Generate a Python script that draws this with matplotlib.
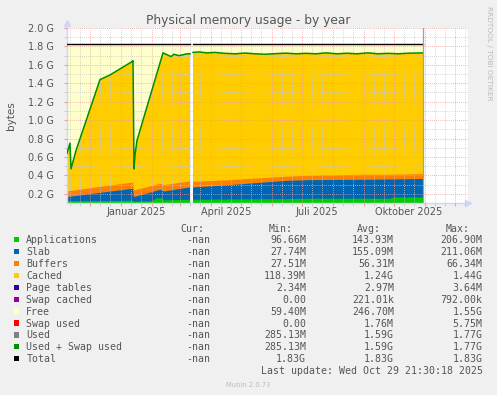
import matplotlib
matplotlib.use("Agg")
import matplotlib.pyplot as plt
import matplotlib.dates as mdates
import matplotlib.transforms as mtransforms
import numpy as np
import pandas as pd
from matplotlib.patches import Rectangle

# "Used + Swap used" line = top of the stacked areas (values in G)
used_dates = [
    "2024-11-08", "2024-11-11", "2024-11-12", "2024-11-17", "2024-12-11",
    "2024-12-21", "2024-12-31", "2025-01-12", "2025-01-13", "2025-01-14",
    "2025-01-15", "2025-01-17", "2025-02-12", "2025-02-14", "2025-02-20",
    "2025-02-23", "2025-02-28", "2025-03-04", "2025-03-08", "2025-03-11",
    "2025-03-12",
    "2025-03-14", "2025-03-20", "2025-03-28", "2025-04-05", "2025-04-15",
    "2025-04-25", "2025-05-05", "2025-05-15", "2025-05-25", "2025-06-05",
    "2025-06-15", "2025-06-25", "2025-07-05", "2025-07-15", "2025-07-25",
    "2025-08-05", "2025-08-15", "2025-08-25", "2025-09-05", "2025-09-15",
    "2025-09-25", "2025-10-05", "2025-10-15", "2025-10-30",
]
used = [
    0.64, 0.75, 0.47, 0.67, 1.44,
    1.49, 1.556, 1.635, 1.645, 0.47,
    0.62, 0.78, 1.73, 1.72, 1.69,
    1.715, 1.70, 1.71, 1.72, 1.72,
    np.nan,
    1.735, 1.74, 1.73, 1.735, 1.725,
    1.72, 1.728, 1.72, 1.715, 1.722,
    1.727, 1.72, 1.725, 1.72, 1.73,
    1.72, 1.726, 1.72, 1.73, 1.72,
    1.725, 1.72, 1.726, 1.73,
]

# lower stacked areas (values in G)
stack_dates = [
    "2024-11-08", "2024-12-11", "2024-12-28", "2025-01-13", "2025-01-14",
    "2025-02-01", "2025-02-06", "2025-02-10", "2025-02-13", "2025-03-11",
    "2025-03-12",
    "2025-03-14", "2025-04-15", "2025-05-15", "2025-06-15", "2025-07-09",
    "2025-09-01", "2025-09-28", "2025-09-30", "2025-10-30",
]
apps = [
    0.120, 0.120, 0.122, 0.125, 0.115,
    0.120, 0.150, 0.152, 0.130, 0.135,
    np.nan,
    0.135, 0.138, 0.140, 0.142, 0.146,
    0.146, 0.146, 0.160, 0.160,
]
slab = [
    0.044, 0.090, 0.111, 0.129, 0.049,
    0.097, 0.085, 0.091, 0.095, 0.134,
    np.nan,
    0.134, 0.152, 0.175, 0.198, 0.202,
    0.206, 0.209, 0.195, 0.200,
]
buffers = [
    0.061, 0.065, 0.067, 0.069, 0.072,
    0.068, 0.065, 0.067, 0.070, 0.065,
    np.nan,
    0.061, 0.055, 0.050, 0.045, 0.048,
    0.055, 0.052, 0.052, 0.054,
]

total = 1.83
total_spans = [("2024-11-08", "2025-03-11"), ("2025-03-14", "2025-10-30")]
data_end = "2025-10-30"

x_label_dates = ["2025-01-16", "2025-04-16", "2025-07-16", "2025-10-16"]
x_labels = ["Januar 2025", "April 2025", "Juli 2025", "Oktober 2025"]
y_ticks = [0.2, 0.4, 0.6, 0.8, 1.0, 1.2, 1.4, 1.6, 1.8, 2.0]

legend_names = ["Applications", "Slab", "Buffers", "Cached", "Page tables",
                "Swap cached", "Free", "Swap used", "Used",
                "Used + Swap used", "Total"]
legend_colors = ["#00CC00", "#0066B3", "#FF8000", "#FFCC00", "#330099",
                 "#990099", "#FFFFCC", "#FF0000", "#808080", "#008F00",
                 "#000000"]
legend_min = ["96.66M", "27.74M", "27.51M", "118.39M", "2.34M", "0.00",
              "59.40M", "0.00", "285.13M", "285.13M", "1.83G"]
legend_avg = ["143.93M", "155.09M", "56.31M", "1.24G", "2.97M", "221.01k",
              "246.70M", "1.76M", "1.59G", "1.59G", "1.83G"]
legend_max = ["206.90M", "211.06M", "66.34M", "1.44G", "3.64M", "792.00k",
              "1.55G", "5.75M", "1.77G", "1.77G", "1.83G"]

W, H = 497, 395
TXT = "#555555"


def fx(x):
    return x / W


def fy(y):
    return 1 - y / H


fig = plt.figure(figsize=(W / 100, H / 100), dpi=100, facecolor="#F0F0F0")
ax = fig.add_axes([fx(67), fy(203), (468 - 67) / W, (203 - 28) / H])
ax.set_facecolor("white")

ud = pd.to_datetime(used_dates)
u = np.ma.masked_invalid(np.array(used, dtype=float))
sd = pd.to_datetime(stack_dates)
a = np.array(apps, dtype=float)
s = a + np.array(slab, dtype=float)
b = s + np.array(buffers, dtype=float)

ax.fill_between(ud, 0.0, u, color="#FFCC00", lw=0, zorder=1)
ax.fill_between(ud, u, total, color="#FFFFCC", lw=0, zorder=1)
ax.fill_between(sd, 0.0, np.ma.masked_invalid(b), color="#FF8000", lw=0, zorder=1.1)
ax.fill_between(sd, 0.0, np.ma.masked_invalid(s), color="#0066B3", lw=0, zorder=1.2)
ax.fill_between(sd, 0.0, np.ma.masked_invalid(a), color="#00CC00", lw=0, zorder=1.3)
ax.plot(ud, u, color="#008F00", lw=1.1, zorder=3)
for start, end in total_spans:
    ax.plot(pd.to_datetime([start, end]), [total, total], color="black", lw=1.0, zorder=3)
ax.plot(pd.to_datetime([data_end, data_end]), [0.1, 2.0], color="#A0A0A0", lw=0.9, zorder=3)

ax.set_xlim(pd.Timestamp("2024-11-08"), pd.Timestamp("2025-12-14"))
ax.set_ylim(0.1, 2.0)

# grid
ax.xaxis.set_major_locator(mdates.MonthLocator())
ax.xaxis.set_minor_locator(mdates.DayLocator(bymonthday=[11, 21]))
ax.xaxis.set_major_formatter(plt.NullFormatter())
ax.set_yticks(y_ticks)
ax.set_yticks([0.3, 0.5, 0.7, 0.9, 1.1, 1.3, 1.5, 1.7, 1.9], minor=True)
ax.set_yticklabels([f"{t:.1f} G" for t in y_ticks], fontsize=7, color=TXT)
ax.set_axisbelow(False)
dots = (0, (1, 1.5))
ax.grid(which="major", color="#E8A0A0", lw=0.6, ls=dots)
ax.grid(which="minor", color="#C8C8C8", lw=0.6, ls=dots)
ax.tick_params(which="major", length=2, color="#E8A0A0", pad=7.5)
ax.tick_params(which="minor", length=2, color="#C8C8C8")

for sp in ["top", "right"]:
    ax.spines[sp].set_visible(False)
for sp in ["left", "bottom"]:
    ax.spines[sp].set_color("#CFD6F8")
    ax.spines[sp].set_linewidth(1.0)
ax.plot([1.0], [0.0], marker=">", ms=4, color="#CFD6F8", transform=ax.transAxes, clip_on=False)
ax.plot([0.0], [1.03], marker="^", ms=4, color="#CFD6F8", transform=ax.transAxes, clip_on=False)

trans = mtransforms.blended_transform_factory(ax.transData, fig.transFigure)
for d, lab in zip(x_label_dates, x_labels):
    ax.text(pd.Timestamp(d), fy(212.3), lab, transform=trans, ha="center", va="center",
            fontsize=7, color=TXT)

fig.text(fx(248.5), fy(24), "Physical memory usage - by year", ha="center", va="baseline",
         fontsize=8.8, color=TXT)
fig.text(fx(11), fy(115.5), "bytes", rotation=90, ha="center", va="center",
         fontsize=7.5, color=TXT)
fig.text(fx(489), fy(53.5), "RRDTOOL / TOBI OETIKER", rotation=270, ha="center",
         va="center", fontsize=5.3, color="#BBBBBB")

# legend
mono = dict(family="DejaVu Sans Mono", fontsize=7.1, color=TXT, va="baseline")
head_y = 231.5
for txt, xr in [("Cur:", 204), ("Min:", 293), ("Avg:", 381), ("Max:", 470)]:
    fig.text(fx(xr), fy(head_y), txt, ha="right", **mono)
for i, name in enumerate(legend_names):
    base = 243.3 + i * 11.9
    fig.patches.append(Rectangle((fx(14), fy(base - 3.6 + 2.65)), 5.3 / W, 5.3 / H,
                                 transform=fig.transFigure, color=legend_colors[i], lw=0))
    fig.text(fx(26.3), fy(base), name, ha="left", **mono)
    fig.text(fx(210.7), fy(base), "-nan", ha="right", **mono)
    fig.text(fx(306), fy(base), legend_min[i], ha="right", **mono)
    fig.text(fx(394), fy(base), legend_avg[i], ha="right", **mono)
    fig.text(fx(482.7), fy(base), legend_max[i], ha="right", **mono)
fig.text(fx(482.7), fy(243.3 + 11 * 11.9), "Last update: Wed Oct 29 21:30:18 2025",
         ha="right", **mono)
fig.text(fx(248), fy(384.7), "Munin 2.0.73", ha="center", va="center", fontsize=4.9,
         color="#BBBBBB")

fig.savefig("out.png", dpi=100, facecolor=fig.get_facecolor())
